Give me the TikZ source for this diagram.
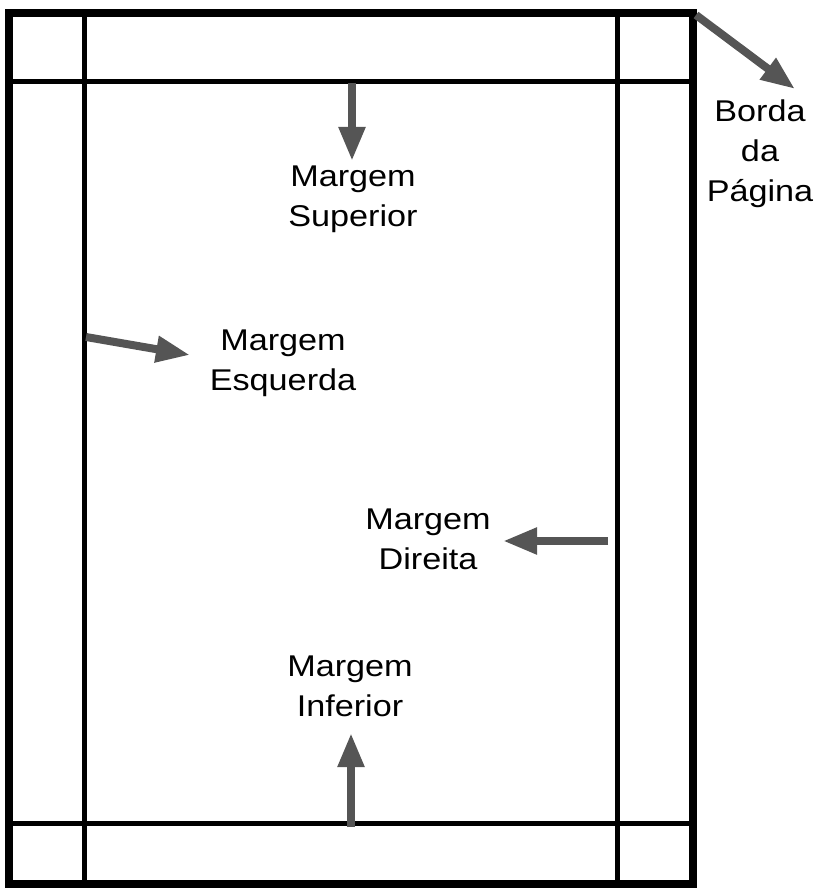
\documentclass[tikz,border=0pt]{standalone}
\usepackage{fontspec}
\setmainfont{Liberation Sans}[FakeStretch=1.14]
\usetikzlibrary{arrows.meta}
\definecolor{arrowgray}{RGB}{85,85,85}
\tikzset{
  outerline/.style={line width=8pt, black},
  innerline/.style={line width=5pt, black},
  pointer/.style={draw=arrowgray, line width=8pt,
    -{Triangle[width=25pt,length=34pt,fill=arrowgray]}},
  label/.style={font=\fontsize{30}{40}\selectfont, align=center, anchor=base, inner sep=0pt}
}
\begin{document}
\begin{tikzpicture}[x=1pt,y=-1pt]
\useasboundingbox (0,0) rectangle (820,890);
% frame
\draw[innerline] (84.5,13) -- (84.5,884);
\draw[innerline] (617.5,13) -- (617.5,884);
\draw[innerline] (9,81.5) -- (693,81.5);
\draw[innerline] (9,823.5) -- (693,823.5);
\draw[outerline] (9,13) rectangle (693,884);
% labels (anchor = baseline of the last line)
\node[label] (sup) at (353,227) {Margem\\Superior};
\node[label] (esq) at (283,390) {Margem\\Esquerda};
\node[label] (dir) at (428,569) {Margem\\Direita};
\node[label] (inf) at (350,716) {Margem\\Inferior};
\node[label] (borda) at (760,202) {Borda\\da\\Página};
% arrow endpoints
\coordinate (supA) at (352,83);
\coordinate (supB) at (352,161);
\coordinate (infA) at (351,827);
\coordinate (infB) at (351,733);
\coordinate (esqA) at (86,337);
\coordinate (esqB) at (190,355);
\coordinate (dirA) at (608,541);
\coordinate (dirB) at (503,541);
\coordinate (bordaA) at (696,15);
\coordinate (bordaB) at (795,89);
\draw[pointer] (supA) -- (supB);
\draw[pointer] (infA) -- (infB);
\draw[pointer] (esqA) -- (esqB);
\draw[pointer] (dirA) -- (dirB);
\draw[pointer] (bordaA) -- (bordaB);
\end{tikzpicture}
\end{document}
